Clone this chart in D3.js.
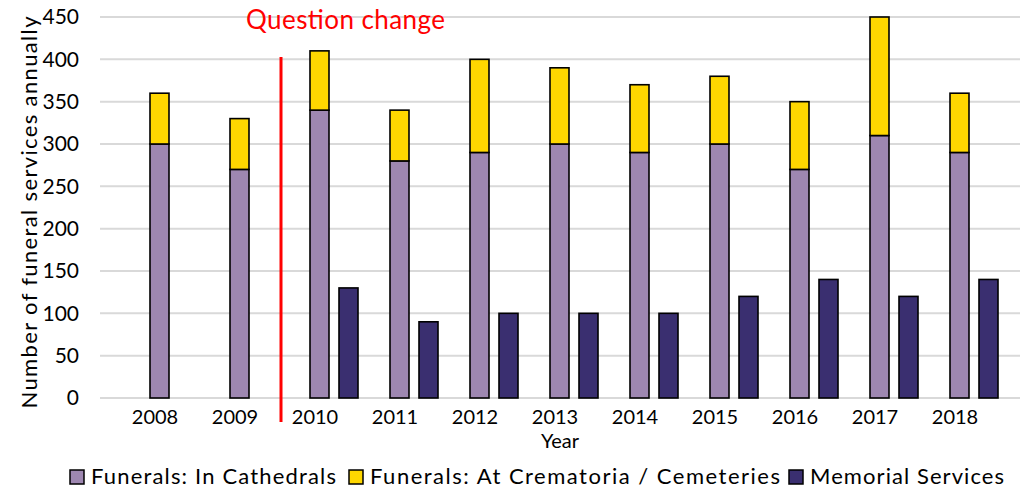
<!DOCTYPE html>
<html>
<head>
<meta charset="utf-8">
<script src="https://cdn.jsdelivr.net/npm/d3@7"></script>
<style>
  body { margin: 0; background: #fff; }
  text { font-family: Lato, "Open Sans", sans-serif; fill: #000; }
</style>
</head>
<body>
<svg id="chart" width="1021" height="491"></svg>
<script>
// data
var years = ["2008", "2009", "2010", "2011", "2012", "2013", "2014", "2015", "2016", "2017", "2018"];
var cathedrals = [300, 270, 340, 280, 290, 300, 290, 300, 270, 310, 290];
var crematoria = [60, 60, 70, 60, 110, 90, 80, 80, 80, 140, 70];
var memorial = [null, null, 130, 90, 100, 100, 100, 120, 140, 120, 140];
var yTicks = [0, 50, 100, 150, 200, 250, 300, 350, 400, 450];
var seriesNames = ["Funerals: In Cathedrals", "Funerals: At Crematoria / Cemeteries", "Memorial Services"];
var colors = ["#9e87b1", "#ffd700", "#3a2f70"];

var svg = d3.select("#chart");
var plot = {left: 100, right: 1020, top: 17, bottom: 398};

var x = d3.scaleBand().domain(years).range([115, 995]);
var inner = d3.scaleBand().domain(["funerals", "memorial"]).range([-5, 43]).paddingInner(0.345);
var y = d3.scaleLinear().domain([0, 450]).range([plot.bottom, plot.top]);

// gridlines
svg.append("g").selectAll("line")
    .data(yTicks)
  .enter().append("line")
    .attr("x1", plot.left).attr("x2", plot.right)
    .attr("y1", d => y(d)).attr("y2", d => y(d))
    .attr("stroke", "#d9d9d9")
    .attr("stroke-width", 2);

// y axis labels
svg.append("g").selectAll("text")
    .data(yTicks)
  .enter().append("text")
    .attr("x", 79)
    .attr("y", d => y(d))
    .attr("dy", "0.35em")
    .attr("text-anchor", "end")
    .style("font-size", "21px")
    .text(d => d);

// x axis labels
svg.append("g").selectAll("text")
    .data(years)
  .enter().append("text")
    .attr("x", d => x(d) + x.bandwidth() / 2)
    .attr("y", 424)
    .attr("text-anchor", "middle")
    .style("font-size", "20px")
    .text(d => d);

var rows = years.map((yr, i) => ({year: yr, cath: cathedrals[i], crem: crematoria[i], mem: memorial[i]}));
var center = d => x(d.year) + x.bandwidth() / 2;

var bars = svg.append("g").attr("stroke", "#000").attr("stroke-width", 1.6);

// stacked funerals
bars.selectAll(".cath")
    .data(rows)
  .enter().append("rect")
    .attr("class", "cath")
    .attr("x", d => center(d) + inner("funerals"))
    .attr("width", inner.bandwidth())
    .attr("y", d => y(d.cath))
    .attr("height", d => y(0) - y(d.cath))
    .attr("fill", colors[0]);

bars.selectAll(".crem")
    .data(rows)
  .enter().append("rect")
    .attr("class", "crem")
    .attr("x", d => center(d) + inner("funerals"))
    .attr("width", inner.bandwidth())
    .attr("y", d => y(d.cath + d.crem))
    .attr("height", d => y(d.cath) - y(d.cath + d.crem))
    .attr("fill", colors[1]);

// memorial services
bars.selectAll(".mem")
    .data(rows.filter(d => d.mem != null))
  .enter().append("rect")
    .attr("class", "mem")
    .attr("x", d => center(d) + inner("memorial"))
    .attr("width", inner.bandwidth())
    .attr("y", d => y(d.mem))
    .attr("height", d => y(0) - y(d.mem))
    .attr("fill", colors[2]);

// question change marker
var qx = x("2010") + 6;
svg.append("line")
    .attr("x1", qx).attr("x2", qx)
    .attr("y1", 57).attr("y2", 422)
    .attr("stroke", "#ff0000")
    .attr("stroke-width", 3);
svg.append("text")
    .attr("x", 246)
    .attr("y", 29)
    .attr("textLength", 199)
    .style("font-size", "26px")
    .style("fill", "#ff0000")
    .text("Question change");

// axis titles
svg.append("text")
    .attr("transform", "translate(37," + ((plot.top + plot.bottom) / 2 + 5) + ") rotate(-90)")
    .attr("text-anchor", "middle")
    .attr("textLength", 392)
    .style("font-size", "22px")
    .text("Number of funeral services annually");

svg.append("text")
    .attr("x", (plot.left + plot.right) / 2)
    .attr("y", 448)
    .attr("text-anchor", "middle")
    .style("font-size", "20px")
    .text("Year");

// legend, item slots as laid out in the reference
var legendX = [70, 349, 789];
var legendW = [245, 410, 194];
var legend = svg.append("g");
seriesNames.forEach(function(name, i) {
  legend.append("rect")
      .attr("x", legendX[i]).attr("y", 470)
      .attr("width", 14).attr("height", 14)
      .attr("fill", colors[i])
      .attr("stroke", "#000")
      .attr("stroke-width", 1.5);
  legend.append("text")
      .attr("x", legendX[i] + 21)
      .attr("y", 484)
      .attr("textLength", legendW[i])
      .style("font-size", "22px")
      .text(name);
});
</script>
</body>
</html>
